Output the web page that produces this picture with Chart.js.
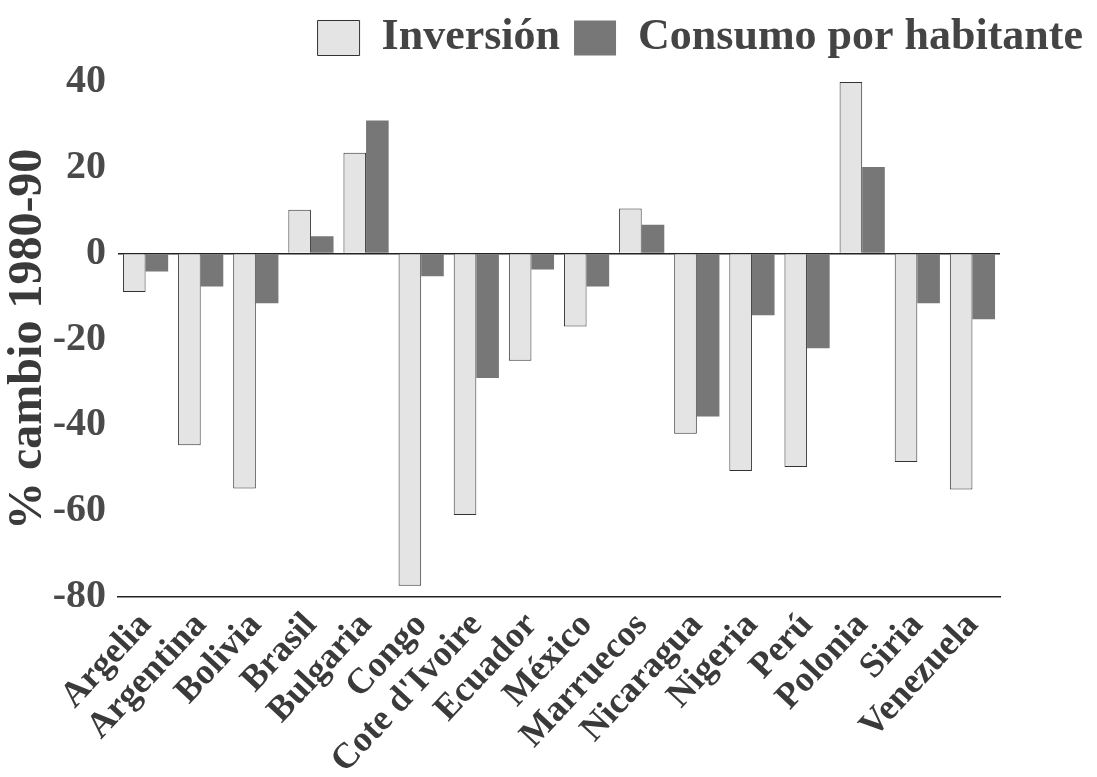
<!DOCTYPE html>
<html>
<head>
<meta charset="utf-8">
<script src="https://cdn.jsdelivr.net/npm/chart.js@4"></script>
<style>
  html, body { margin: 0; padding: 0; background: #fff; }
  #wrap { width: 1097px; height: 777px; }
</style>
</head>
<body>
<div id="wrap"><canvas id="chart"></canvas></div>
<script>
// paises y cambios porcentuales 1980-90
const categories = ["Argelia", "Argentina", "Bolivia", "Brasil", "Bulgaria", "Congo", "Cote d'Ivoire", "Ecuador",
  "México", "Marruecos", "Nicaragua", "Nigeria", "Perú", "Polonia", "Siria", "Venezuela"];
const inversion = [-9, -44.7, -54.8, 10.2, 23.5, -77.5, -61, -25, -17, 10.5, -42, -50.7, -49.8, 40, -48.6, -55];
const consumo = [-4.2, -7.7, -11.6, 4, 31, -5.3, -29, -3.7, -7.7, 6.7, -38, -14.4, -22.1, 20.2, -11.6, -15.3];
const yTicks = [40, 20, 0, -20, -40, -60, -80];

const serif = "'Liberation Serif', 'DejaVu Serif', serif";

const ctx = document.getElementById("chart");

new Chart(ctx, {
  type: "bar",
  data: {
    labels: categories,
    datasets: [
      {
        label: "Inversión",
        data: inversion,
        backgroundColor: "#e4e4e4",
        borderColor: "#333",
        borderWidth: 1,
        borderSkipped: "start",
        barPercentage: 1,
        categoryPercentage: 0.82,
      },
      {
        label: "Consumo por habitante",
        data: consumo,
        backgroundColor: "#777777",
        borderWidth: 0,
        barPercentage: 1,
        categoryPercentage: 0.82,
      },
    ],
  },
  options: {
    responsive: true,
    maintainAspectRatio: false,
    animation: false,
    layout: { padding: { top: 2, right: 0, bottom: 0, left: 0 } },
    plugins: {
      tooltip: { enabled: false },
      legend: {
        position: "top",
        align: "end",
        labels: {
          boxWidth: 42,
          boxHeight: 35,
          padding: 14,
          color: "#444",
          font: { family: serif, size: 44, weight: "bold" },
        },
      },
    },
    scales: {
      x: {
        grid: { display: false },
        border: { display: true, color: "#222", width: 1.5 },
        ticks: {
          color: "#3a3a3a",
          font: { family: serif, size: 36, weight: "bold" },
          minRotation: 47,
          maxRotation: 47,
          autoSkip: false,
          padding: 0,
        },
        afterFit: (s) => { s.height -= 5; },
      },
      // espacio vacio arriba y a la derecha del area del grafico
      xTop: {
        position: "top",
        labels: categories,
        grid: { display: false },
        border: { display: false },
        ticks: { display: false },
        afterFit: (s) => { s.height = 12; },
      },
      y: {
        min: -80,
        max: 40,
        afterBuildTicks: (axis) => {
          axis.ticks = yTicks.map((v) => ({ value: v }));
        },
        afterFit: (s) => { s.width = 118; },
        grid: {
          drawTicks: false,
          color: (c) => (c.tick && c.tick.value === 0 ? "#222" : "transparent"),
          lineWidth: 1.5,
        },
        border: { display: false },
        ticks: {
          color: "#4a4a4a",
          padding: 12,
          font: { family: serif, size: 40, weight: "bold" },
        },
        title: {
          display: true,
          text: "% cambio 1980-90",
          color: "#3a3a3a",
          padding: 0,
          font: { family: serif, size: 48, weight: "bold" },
        },
      },
      yRight: {
        position: "right",
        grid: { display: false },
        border: { display: false },
        ticks: { display: false },
        afterFit: (s) => { s.width = 97; },
      },
    },
  },
});
</script>
</body>
</html>
